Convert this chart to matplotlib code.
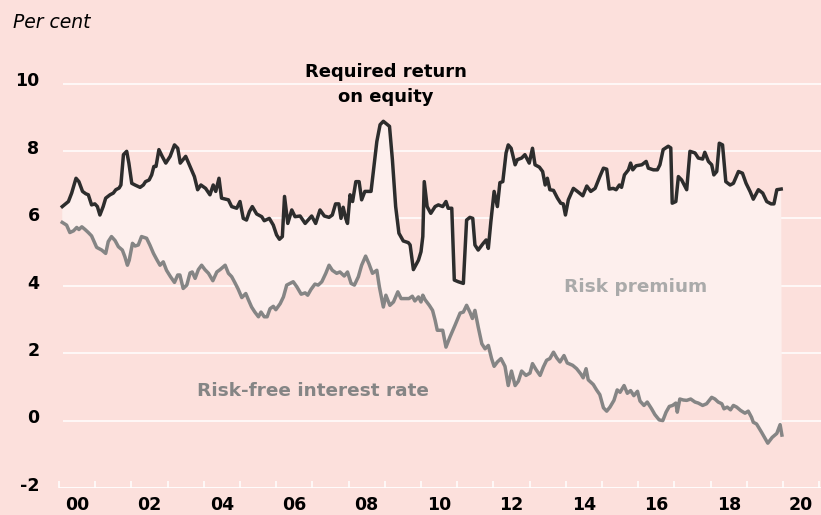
import matplotlib
matplotlib.use("Agg")
import matplotlib.pyplot as plt
import matplotlib.transforms as mtransforms

BG = "#fce0dc"
FILL = "#fdefed"
DARK = "#2d2d2d"
GREY = "#858585"

# Required return on equity (per cent)
req_years = [
    2000.09, 2000.26, 2000.35, 2000.47, 2000.55, 2000.65, 2000.74, 2000.81, 2000.90, 2000.99,
    2001.06, 2001.13, 2001.22, 2001.29, 2001.41, 2001.50, 2001.57, 2001.66, 2001.71, 2001.78,
    2001.87, 2001.93, 2002.01, 2002.10, 2002.24, 2002.33, 2002.39, 2002.49, 2002.56, 2002.62,
    2002.68, 2002.76, 2002.85, 2002.95, 2003.07, 2003.19, 2003.28, 2003.35, 2003.50, 2003.62,
    2003.74, 2003.83, 2003.92, 2004.05, 2004.17, 2004.26, 2004.33, 2004.42, 2004.49, 2004.60,
    2004.68, 2004.77, 2004.91, 2005.00, 2005.09, 2005.18, 2005.26, 2005.34, 2005.46, 2005.60,
    2005.67, 2005.81, 2005.92, 2006.01, 2006.09, 2006.17, 2006.23, 2006.32, 2006.43, 2006.52,
    2006.66, 2006.80, 2006.98, 2007.09, 2007.21, 2007.33, 2007.46, 2007.55, 2007.64, 2007.73,
    2007.79, 2007.85, 2007.92, 2007.97, 2008.04, 2008.11, 2008.20, 2008.29, 2008.36, 2008.45,
    2008.62, 2008.71, 2008.78, 2008.87, 2008.96, 2009.13, 2009.21, 2009.30, 2009.39, 2009.51,
    2009.65, 2009.70, 2009.79, 2009.93, 2010.00, 2010.05, 2010.09, 2010.17, 2010.27, 2010.39,
    2010.48, 2010.60, 2010.69, 2010.75, 2010.85, 2010.92, 2011.03, 2011.17, 2011.26, 2011.35,
    2011.43, 2011.49, 2011.58, 2011.72, 2011.80, 2011.86, 2011.93, 2012.02, 2012.11, 2012.18,
    2012.26, 2012.35, 2012.41, 2012.49, 2012.60, 2012.66, 2012.78, 2012.87, 2012.99, 2013.08,
    2013.15, 2013.27, 2013.36, 2013.43, 2013.49, 2013.56, 2013.66, 2013.77, 2013.86, 2013.93,
    2013.99, 2014.07, 2014.21, 2014.32, 2014.47, 2014.58, 2014.69, 2014.81, 2014.94, 2015.04,
    2015.13, 2015.20, 2015.31, 2015.39, 2015.48, 2015.54, 2015.62, 2015.73, 2015.79, 2015.85,
    2015.94, 2016.10, 2016.22, 2016.28, 2016.42, 2016.53, 2016.60, 2016.69, 2016.83, 2016.90,
    2016.94, 2017.04, 2017.11, 2017.20, 2017.34, 2017.43, 2017.57, 2017.66, 2017.78, 2017.84,
    2017.94, 2018.03, 2018.09, 2018.17, 2018.24, 2018.33, 2018.42, 2018.54, 2018.63, 2018.77,
    2018.88, 2018.98, 2019.09, 2019.18, 2019.32, 2019.44, 2019.55, 2019.67, 2019.75, 2019.83,
    2019.95,
]
req_values = [
    6.35, 6.50, 6.75, 7.19, 7.09, 6.80, 6.73, 6.70, 6.40, 6.43,
    6.35, 6.10, 6.35, 6.60, 6.70, 6.75, 6.85, 6.90, 6.99, 7.89,
    7.99, 7.64, 7.04, 6.99, 6.92, 6.99, 7.09, 7.14, 7.29, 7.54,
    7.54, 8.04, 7.84, 7.64, 7.84, 8.18, 8.08, 7.64, 7.84, 7.54,
    7.24, 6.85, 6.99, 6.89, 6.70, 6.99, 6.80, 7.19, 6.60, 6.57,
    6.55, 6.35, 6.30, 6.50, 6.00, 5.95, 6.20, 6.35, 6.13, 6.05,
    5.93, 6.00, 5.80, 5.51, 5.38, 5.46, 6.65, 5.85, 6.25, 6.05,
    6.07, 5.85, 6.07, 5.85, 6.25, 6.07, 6.03, 6.10, 6.43, 6.43,
    6.00, 6.33, 6.00, 5.85, 6.70, 6.50, 7.09, 7.09, 6.55, 6.80,
    6.80, 7.64, 8.28, 8.78, 8.88, 8.73, 7.74, 6.35, 5.56, 5.33,
    5.28, 5.21, 4.48, 4.76, 5.01, 5.46, 7.09, 6.35, 6.15, 6.35,
    6.40, 6.35, 6.50, 6.30, 6.30, 4.17, 4.12, 4.07, 5.95, 6.03,
    6.00, 5.21, 5.06, 5.26, 5.36, 5.11, 5.90, 6.80, 6.35, 7.06,
    7.09, 7.94, 8.18, 8.08, 7.59, 7.74, 7.79, 7.89, 7.64, 8.08,
    7.59, 7.52, 7.39, 6.99, 7.19, 6.85, 6.83, 6.60, 6.45, 6.43,
    6.10, 6.55, 6.89, 6.80, 6.67, 6.96, 6.80, 6.89, 7.24, 7.49,
    7.46, 6.87, 6.89, 6.85, 6.99, 6.92, 7.29, 7.44, 7.64, 7.44,
    7.56, 7.59, 7.69, 7.49, 7.44, 7.44, 7.59, 8.04, 8.14, 8.09,
    6.45, 6.50, 7.24, 7.14, 6.85, 7.99, 7.94, 7.79, 7.76, 7.96,
    7.69, 7.59, 7.29, 7.39, 8.23, 8.18, 7.09, 6.99, 7.04, 7.39,
    7.34, 7.04, 6.80, 6.57, 6.85, 6.75, 6.50, 6.43, 6.43, 6.85,
    6.87,
]

# Risk-free interest rate (per cent)
rf_years = [
    2000.09, 2000.21, 2000.30, 2000.40, 2000.49, 2000.55, 2000.63, 2000.72, 2000.81, 2000.90,
    2001.04, 2001.18, 2001.29, 2001.36, 2001.45, 2001.55, 2001.64, 2001.75, 2001.82, 2001.89,
    2001.94, 2002.03, 2002.10, 2002.19, 2002.28, 2002.42, 2002.51, 2002.61, 2002.70, 2002.79,
    2002.88, 2002.97, 2003.08, 2003.19, 2003.28, 2003.34, 2003.43, 2003.53, 2003.62, 2003.68,
    2003.76, 2003.85, 2003.94, 2004.03, 2004.13, 2004.25, 2004.36, 2004.45, 2004.59, 2004.68,
    2004.77, 2004.86, 2004.95, 2005.05, 2005.16, 2005.23, 2005.32, 2005.41, 2005.51, 2005.58,
    2005.67, 2005.75, 2005.83, 2005.92, 2005.99, 2006.11, 2006.20, 2006.29, 2006.38, 2006.47,
    2006.57, 2006.69, 2006.80, 2006.87, 2006.96, 2007.07, 2007.16, 2007.26, 2007.37, 2007.46,
    2007.55, 2007.67, 2007.76, 2007.88, 2007.97, 2008.07, 2008.16, 2008.27, 2008.36, 2008.47,
    2008.56, 2008.66, 2008.78, 2008.85, 2008.96, 2009.03, 2009.14, 2009.24, 2009.36, 2009.45,
    2009.56, 2009.67, 2009.76, 2009.83, 2009.93, 2010.00, 2010.05, 2010.11, 2010.23, 2010.32,
    2010.39, 2010.45, 2010.60, 2010.69, 2010.80, 2010.94, 2011.08, 2011.17, 2011.26, 2011.35,
    2011.42, 2011.49, 2011.58, 2011.68, 2011.77, 2011.86, 2011.95, 2012.02, 2012.11, 2012.21,
    2012.32, 2012.41, 2012.50, 2012.60, 2012.69, 2012.78, 2012.90, 2013.01, 2013.08, 2013.18,
    2013.29, 2013.38, 2013.47, 2013.56, 2013.66, 2013.75, 2013.84, 2013.95, 2014.04, 2014.19,
    2014.30, 2014.41, 2014.48, 2014.56, 2014.62, 2014.76, 2014.85, 2014.94, 2015.04, 2015.13,
    2015.22, 2015.33, 2015.42, 2015.50, 2015.61, 2015.70, 2015.79, 2015.88, 2015.98, 2016.05,
    2016.16, 2016.25, 2016.37, 2016.46, 2016.58, 2016.68, 2016.77, 2016.86, 2016.95, 2017.04,
    2017.08, 2017.15, 2017.25, 2017.34, 2017.45, 2017.57, 2017.66, 2017.78, 2017.89, 2018.03,
    2018.12, 2018.21, 2018.31, 2018.37, 2018.46, 2018.55, 2018.63, 2018.72, 2018.83, 2018.95,
    2019.04, 2019.13, 2019.18, 2019.27, 2019.41, 2019.58, 2019.70, 2019.83, 2019.92, 2019.97,
]
rf_values = [
    5.88, 5.80, 5.58, 5.63, 5.73, 5.67, 5.75, 5.67, 5.58, 5.48,
    5.14, 5.06, 4.96, 5.31, 5.46, 5.34, 5.16, 5.06, 4.86, 4.61,
    4.76, 5.26, 5.18, 5.21, 5.46, 5.41, 5.21, 4.96, 4.78, 4.61,
    4.71, 4.46, 4.27, 4.10, 4.32, 4.32, 3.92, 4.02, 4.38, 4.41,
    4.22, 4.48, 4.61, 4.48, 4.37, 4.15, 4.41, 4.48, 4.61, 4.37,
    4.27, 4.09, 3.90, 3.65, 3.77, 3.59, 3.37, 3.22, 3.08, 3.22,
    3.08, 3.08, 3.32, 3.39, 3.29, 3.47, 3.67, 4.02, 4.07, 4.12,
    3.97, 3.75, 3.79, 3.72, 3.89, 4.05, 4.02, 4.12, 4.37, 4.61,
    4.46, 4.37, 4.41, 4.29, 4.41, 4.07, 4.02, 4.27, 4.61, 4.88,
    4.66, 4.37, 4.46, 3.97, 3.37, 3.72, 3.42, 3.52, 3.82, 3.62,
    3.62, 3.62, 3.69, 3.55, 3.67, 3.52, 3.72, 3.59, 3.42, 3.27,
    2.98, 2.68, 2.68, 2.18, 2.48, 2.83, 3.19, 3.22, 3.42, 3.22,
    3.03, 3.27, 2.78, 2.28, 2.13, 2.23, 1.84, 1.61, 1.74, 1.84,
    1.61, 1.04, 1.47, 1.04, 1.17, 1.47, 1.34, 1.41, 1.69, 1.51,
    1.34, 1.59, 1.79, 1.84, 2.03, 1.86, 1.74, 1.93, 1.71, 1.64,
    1.54, 1.39, 1.27, 1.54, 1.21, 1.07, 0.91, 0.77, 0.38, 0.28,
    0.40, 0.60, 0.91, 0.84, 1.04, 0.81, 0.89, 0.74, 0.87, 0.58,
    0.45, 0.55, 0.35, 0.18, 0.02, 0.00, 0.25, 0.42, 0.45, 0.52,
    0.25, 0.64, 0.61, 0.60, 0.64, 0.55, 0.52, 0.45, 0.50, 0.69,
    0.64, 0.55, 0.50, 0.35, 0.40, 0.32, 0.45, 0.40, 0.30, 0.22,
    0.28, 0.10, -0.05, -0.10, -0.35, -0.67, -0.50, -0.38, -0.12, -0.43,
]

y_ticks = [-2, 0, 2, 4, 6, 8, 10]
y_labels = ["-2", "0", "2", "4", "6", "8", "10"]
year_labels = ["00", "02", "04", "06", "08", "10", "12", "14", "16", "18", "20"]


fig = plt.figure(figsize=(8.21, 5.15), dpi=100)
fig.patch.set_facecolor(BG)
ax = fig.add_axes([59 / 821, 27 / 515, 762 / 821, 455 / 515])
ax.set_facecolor(BG)
ax.set_xlim(2000, 2021.05)
ax.set_ylim(-2, 11.5)
for s in ax.spines.values():
    s.set_visible(False)

# white gridlines and bottom axis
ax.hlines(y_ticks[1:], 2000.11, 2021.05, color="white", lw=1.1, zorder=1)
ax.axhline(-2, color="white", lw=1.3, zorder=1)

# risk premium band between the two lines
ax.fill(req_years + rf_years[::-1], req_values + rf_values[::-1],
        color=FILL, lw=0, zorder=2)
ax.plot(rf_years, rf_values, color=GREY, lw=2.5, zorder=3, solid_joinstyle="round")
ax.plot(req_years, req_values, color=DARK, lw=2.5, zorder=4, solid_joinstyle="round")

# x axis: year ticks, labels in the middle of even years
ax.set_xticks(range(2000, 2022), minor=True)
ax.set_xticks([2000.5 + 2 * i for i in range(len(year_labels))])
ax.set_xticklabels(year_labels, fontsize=12.5, fontweight="bold")
ax.tick_params(axis="x", which="minor", direction="in", length=5, width=1.1, color="white")
ax.tick_params(axis="x", which="major", length=0, pad=6)

ax.set_yticks(y_ticks)
ax.set_yticklabels(y_labels, fontsize=12.5, fontweight="bold")
ax.tick_params(axis="y", length=0, pad=14)
lift = mtransforms.ScaledTranslation(0, 3 / 72, fig.dpi_scale_trans)
for lab in ax.get_yticklabels():
    lab.set_transform(lab.get_transform() + lift)

ax.text(2009.03, 9.97, "Required return\non equity", ha="center", va="center",
        fontsize=13, fontweight="bold", color="black", linespacing=1.45, zorder=5)
ax.text(2015.94, 3.95, "Risk premium", ha="center", va="center",
        fontsize=13.3, fontweight="bold", color="#aaaaaa", zorder=5)
ax.text(2007.02, 0.89, "Risk-free interest rate", ha="center", va="center",
        fontsize=13.3, fontweight="bold", color=GREY, zorder=5)

fig.text(13 / 821, 1 - 22 / 515, "Per cent", style="italic", fontsize=13.5,
         ha="left", va="center")

fig.savefig("out.png", dpi=100, facecolor=BG)
